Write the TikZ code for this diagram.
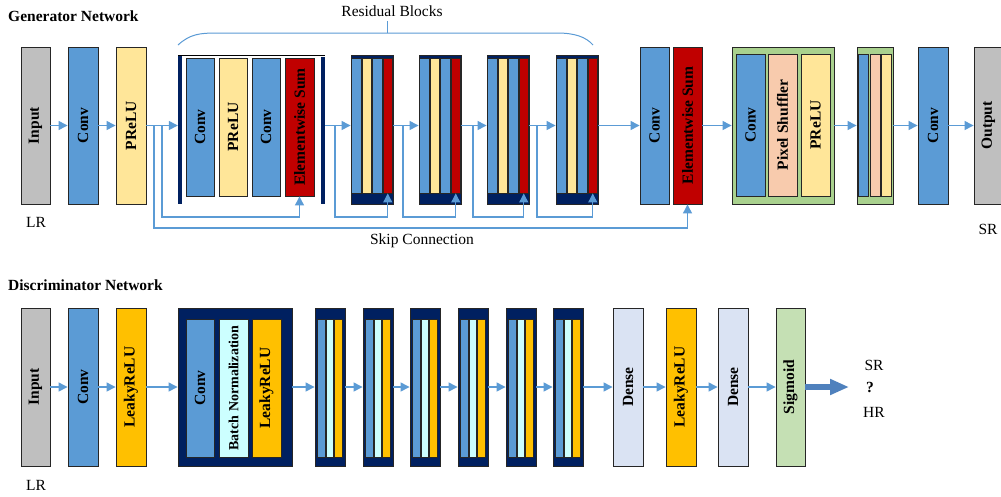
\documentclass[tikz,border=0pt]{standalone}
\usepackage{fontspec}
\setmainfont{Liberation Serif}
\usepackage{graphicx}
\usetikzlibrary{arrows.meta}
\definecolor{cgray}{HTML}{BFBFBF}
\definecolor{cblue}{HTML}{5B9BD5}
\definecolor{cyellow}{HTML}{FFE699}
\definecolor{cred}{HTML}{C00000}
\definecolor{cnavy}{HTML}{002060}
\definecolor{cpeach}{HTML}{F8CBAD}
\definecolor{cgreen}{HTML}{A9D18E}
\definecolor{csig}{HTML}{C5E0B4}
\definecolor{cdense}{HTML}{DAE3F3}
\definecolor{ccyan}{HTML}{CCFFFF}
\definecolor{corange}{HTML}{FFC000}
\definecolor{carrow}{HTML}{5B9BD5}
\definecolor{cbig}{HTML}{4F81BD}
\definecolor{cborder}{HTML}{262626}
\newcommand\mkbox[7]{\node[#6, minimum width={((#4)-(#2))*1pt}, minimum height={((#5)-(#3))*1pt}] (#1) at ({((#2)+(#4))/2},{((#3)+(#5))/2}) {#7};}
\newcommand\vt[1]{\rotatebox{90}{#1}}
\newcommand\boxfont{\bfseries\fontsize{15.5}{16}\selectfont}
\begin{document}
\begin{tikzpicture}[x=1pt,y=-1pt,
  box/.style={draw=cborder, line width=0.9pt, inner sep=0pt, font=\boxfont},
  plain/.style={draw=none, inner sep=0pt},
  conn/.style={draw=carrow, line width=1.3pt, -{Triangle[length=9pt,width=9pt]}},
  skipline/.style={draw=carrow, line width=1.2pt},
  txt/.style={inner sep=0pt, font=\fontsize{15.5}{17}\selectfont},
  ttl/.style={inner sep=0pt, anchor=west, font=\bfseries\fontsize{15.5}{17}\selectfont},
  bigarrow/.style={draw=cbig, line width=6pt, -{Triangle[length=19pt,width=15pt]}}]
\useasboundingbox (0,0) rectangle (1001,496);
\clip (0,0) rectangle (1001,496);
\fill[white] (0,0) rectangle (1001,496);

% ---------------- Generator ----------------
\node[ttl] (gtitle) at (8,16) {Generator Network};
\mkbox{gin}{21}{47}{50}{204}{box,fill=cgray}{\vt{Input}}
\mkbox{gconv}{68}{47}{98}{204}{box,fill=cblue}{\vt{Conv}}
\mkbox{gprelu}{116}{47}{146}{204}{box,fill=cyellow}{\vt{PReLU}}
\node[txt] (glr) at (36,222) {LR};

% residual block 1
\mkbox{rb1}{178}{55}{325}{204}{plain,fill=white}{}
\fill[cnavy] (178,55) rectangle (181.5,204);
\fill[cnavy] (321,57) rectangle (325,204);
\draw[black, line width=1.2pt] (178,55.6) -- (325,55.6);
\mkbox{r1a}{186}{58}{214}{196}{box,fill=cblue}{\vt{Conv}}
\mkbox{r1b}{219}{58}{247}{196}{box,fill=cyellow}{\vt{PReLU}}
\mkbox{r1c}{252}{58}{280}{196}{box,fill=cblue}{\vt{Conv}}
\mkbox{rbs1}{285}{58}{314}{196}{box,fill=cred}{\vt{Elementwise Sum}}

% small residual blocks
\foreach \x [count=\i from 2] in {351,419,487,556} {
  \mkbox{rb\i}{\x}{55}{\x+42}{204}{box,fill=cnavy}{}
  \mkbox{rba\i}{\x+0.5}{58}{\x+10.5}{193}{box,fill=cblue}{}
  \mkbox{rbb\i}{\x+11}{58}{\x+20.5}{193}{box,fill=cyellow}{}
  \mkbox{rbc\i}{\x+21}{58}{\x+31}{193}{box,fill=cblue}{}
  \mkbox{rbs\i}{\x+32}{58}{\x+41.5}{193}{box,fill=cred}{}
}

\mkbox{gconv2}{640}{47}{669}{204}{box,fill=cblue}{\vt{Conv}}
\mkbox{gsum}{673}{47}{702}{204}{box,fill=cred}{\vt{Elementwise Sum}}

% upsampling blocks
\mkbox{up1}{732}{47}{834}{204}{box,fill=cgreen}{}
\mkbox{up1a}{736}{54}{765}{196}{box,fill=cblue}{\vt{Conv}}
\mkbox{up1b}{768}{54}{797}{196}{box,fill=cpeach}{\vt{Pixel Shuffler}}
\mkbox{up1c}{801}{54}{830}{196}{box,fill=cyellow}{\vt{PReLU}}
\mkbox{up2}{857}{47}{893}{204}{box,fill=cgreen}{}
\mkbox{up2a}{858.5}{54}{868}{196}{box,fill=cblue}{}
\mkbox{up2b}{870}{54}{880}{196}{box,fill=cpeach}{}
\mkbox{up2c}{881.5}{54}{891.5}{196}{box,fill=cyellow}{}

\mkbox{gconv3}{918}{47}{948}{204}{box,fill=cblue}{\vt{Conv}}
\mkbox{gout}{974}{47}{1003}{204}{box,fill=cgray}{\vt{Output}}
\node[txt] (gsr) at (988,229) {SR};

% main arrows
\draw[conn] (gin.east) -- (gconv.west);
\draw[conn] (gconv.east) -- (gprelu.west);
\draw[conn] (gprelu.east) -- (gprelu.east -| rb1.west);
\draw[conn] (rb1.east |- gin.center) -- (rb2.west |- gin.center);
\draw[conn] (rb2.east |- gin.center) -- (rb3.west |- gin.center);
\draw[conn] (rb3.east |- gin.center) -- (rb4.west |- gin.center);
\draw[conn] (rb4.east |- gin.center) -- (rb5.west |- gin.center);
\draw[conn] (rb5.east |- gin.center) -- (gconv2.west);
\draw[conn] (gsum.east) -- (up1.west);
\draw[conn] (up1.east) -- (up2.west);
\draw[conn] (up2.east) -- (gconv3.west);
\draw[conn] (gconv3.east) -- (gout.west);

% skip connections
\coordinate (j0) at (154,125.5);
\coordinate (j1) at (162,125.5);
\coordinate (j2) at (335,125.5);
\coordinate (j3) at (403,125.5);
\coordinate (j4) at (473,125.5);
\coordinate (j5) at (537,125.5);
\draw[skipline, -{Triangle[length=9pt,width=9pt]}] (j0) -- ++(0,102.5) -| (gsum.south);
\draw[skipline, -{Triangle[length=9pt,width=9pt]}] (j1) -- ++(0,91.5) -| (rbs1.south);
\draw[skipline, -{Triangle[length=9pt,width=9pt]}] (j2) -- ++(0,91.5) -| (rbs2.south);
\draw[skipline, -{Triangle[length=9pt,width=9pt]}] (j3) -- ++(0,91.5) -| (rbs3.south);
\draw[skipline, -{Triangle[length=9pt,width=9pt]}] (j4) -- ++(0,91.5) -| (rbs4.south);
\draw[skipline, -{Triangle[length=9pt,width=9pt]}] (j5) -- ++(0,91.5) -| (rbs5.south);
\node[txt] (skiplbl) at (422,241) {Skip Connection};

% residual blocks brace
\draw[carrow, line width=1pt] (178,45) .. controls (190,34) and (200,33) .. (217,33) -- (557,33) .. controls (575,33) and (586,37) .. (593,45);
\draw[carrow, line width=1pt] (387,33) -- (387,21);
\node[txt] (rblbl) at (392,11) {Residual Blocks};

% ---------------- Discriminator ----------------
\node[ttl] (dtitle) at (8,285) {Discriminator Network};
\mkbox{din}{21}{308}{50}{466}{box,fill=cgray}{\vt{Input}}
\mkbox{dconv}{68}{308}{98}{466}{box,fill=cblue}{\vt{Conv}}
\mkbox{dlrelu}{116}{308}{146}{466}{box,fill=corange}{\vt{LeakyReLU}}
\node[txt] (dlr) at (36,485) {LR};

\mkbox{db0}{178}{308}{292}{466}{box,fill=cnavy}{}
\mkbox{db0a}{186}{319}{214}{457}{box,fill=cblue}{\vt{Conv}}
\mkbox{db0b}{219}{319}{248}{457}{box,fill=ccyan,font=\bfseries\fontsize{14}{15}\selectfont}{\vt{Batch Normalization}}
\mkbox{db0c}{252}{319}{281}{457}{box,fill=corange}{\vt{LeakyReLU}}

\foreach \x [count=\i] in {315,363,410,458,506,553} {
  \mkbox{db\i}{\x}{308}{\x+30}{466}{box,fill=cnavy}{}
  \mkbox{dba\i}{\x+2}{319}{\x+10}{457}{box,fill=cblue}{}
  \mkbox{dbb\i}{\x+11}{319}{\x+18.5}{457}{box,fill=ccyan}{}
  \mkbox{dbc\i}{\x+19.5}{319}{\x+27.5}{457}{box,fill=corange}{}
}

\mkbox{dd1}{613}{308}{643}{466}{box,fill=cdense}{\vt{Dense}}
\mkbox{dlrelu2}{666}{308}{696}{466}{box,fill=corange}{\vt{LeakyReLU}}
\mkbox{dd2}{718}{308}{748}{466}{box,fill=cdense}{\vt{Dense}}
\mkbox{dsig}{776}{308}{805}{466}{box,fill=csig}{\vt{Sigmoid}}

\draw[conn] (din.east) -- (dconv.west);
\draw[conn] (dconv.east) -- (dlrelu.west);
\draw[conn] (dlrelu.east) -- (db0.west);
\draw[conn] (db0.east) -- (db1.west);
\draw[conn] (db1.east) -- (db2.west);
\draw[conn] (db2.east) -- (db3.west);
\draw[conn] (db3.east) -- (db4.west);
\draw[conn] (db4.east) -- (db5.west);
\draw[conn] (db5.east) -- (db6.west);
\draw[conn] (db6.east) -- (dd1.west);
\draw[conn] (dd1.east) -- (dlrelu2.west);
\draw[conn] (dlrelu2.east) -- (dd2.west);
\draw[conn] (dd2.east) -- (dsig.west);

\coordinate (dend) at (849,387);
\draw[bigarrow] (dsig.east) -- (dend);
\node[txt] (dsr) at (874,365) {SR};
\node[txt, font=\bfseries\fontsize{15.5}{17}\selectfont] (dq) at (870,387) {?};
\node[txt] (dhr) at (874,412) {HR};
\end{tikzpicture}
\end{document}
